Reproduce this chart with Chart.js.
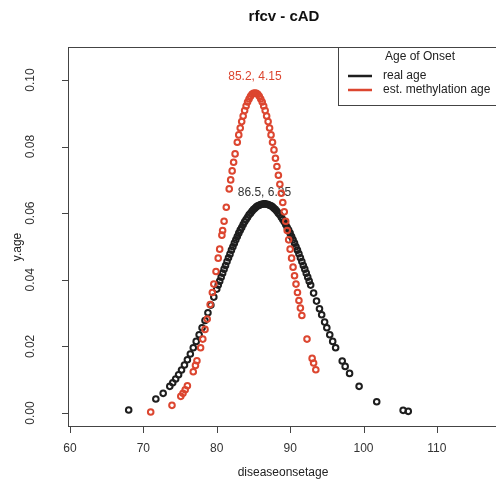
<!DOCTYPE html>
<html>
<head>
<meta charset="utf-8">
<script src="https://cdn.jsdelivr.net/npm/chart.js@4/dist/chart.umd.min.js"></script>
<style>
  html, body { margin: 0; padding: 0; background: #fff; overflow: hidden; }
  #wrap { width: 520px; height: 491px; }
</style>
</head>
<body>
<div id="wrap"><canvas id="densChart" width="520" height="491"></canvas></div>
<script>
const titleText = "rfcv - cAD";
const xTitle = "diseaseonsetage";
const yTitle = "y.age";
const xTicks = [60, 70, 80, 90, 100, 110];
const yTicks = [0.00, 0.02, 0.04, 0.06, 0.08, 0.10];
const yTickLabels = ["0.00", "0.02", "0.04", "0.06", "0.08", "0.10"];

const legendTitle = "Age of Onset";
const seriesNames = ["real age", "est. methylation age"];
const peakLabels = ["86.5, 6.35", "85.2, 4.15"];
const peakLabelX = [86.5, 85.2];
const peakLabelY = [0.0661, 0.1009];

// real age (black)
const blackAge = [68.0, 71.7, 72.7, 73.6,
  74.0, 74.4, 74.8, 75.2, 75.6, 76.0, 76.4, 76.8, 77.2, 77.6,
  78.0, 78.4, 78.8, 79.2, 79.6,
  80.0, 80.2, 80.4, 80.6, 80.8, 81.0, 81.2, 81.4, 81.6, 81.8,
  82.0, 82.2, 82.4, 82.6, 82.8, 83.0, 83.2, 83.4, 83.6, 83.8,
  84.0, 84.2, 84.4, 84.6, 84.8, 85.0, 85.2, 85.4, 85.6, 85.8,
  86.0, 86.2, 86.4, 86.6, 86.8, 87.0, 87.2, 87.4, 87.6, 87.8,
  88.0, 88.2, 88.4, 88.6, 88.8, 89.0, 89.2, 89.4, 89.6, 89.8,
  90.0, 90.2, 90.4, 90.6, 90.8, 91.0, 91.2, 91.4, 91.6, 91.8,
  92.0, 92.2, 92.4, 92.6, 92.8, 93.2, 93.6,
  94.0, 94.3, 94.7, 95.0, 95.4, 95.8, 96.2,
  97.1, 97.5, 98.1, 99.4, 101.8, 105.4, 106.1];
const blackY = [0.0009, 0.0042, 0.0059, 0.0080,
  0.0091, 0.0102, 0.0115, 0.0129, 0.0144, 0.0160, 0.0177, 0.0196, 0.0215, 0.0235,
  0.0256, 0.0278, 0.0301, 0.0324, 0.0348,
  0.0372, 0.0384, 0.0396, 0.0408, 0.0420, 0.0432, 0.0443, 0.0455, 0.0466, 0.0477,
  0.0489, 0.0499, 0.0510, 0.0520, 0.0530, 0.0540, 0.0549, 0.0557, 0.0566, 0.0574,
  0.0581, 0.0588, 0.0595, 0.0600, 0.0606, 0.0611, 0.0615, 0.0619, 0.0622, 0.0624,
  0.0626, 0.0627, 0.0628, 0.0628, 0.0627, 0.0626, 0.0624, 0.0622, 0.0619, 0.0615,
  0.0611, 0.0606, 0.0600, 0.0595, 0.0588, 0.0581, 0.0574, 0.0566, 0.0557, 0.0549,
  0.0540, 0.0530, 0.0520, 0.0510, 0.0499, 0.0489, 0.0478, 0.0466, 0.0455, 0.0443,
  0.0432, 0.0420, 0.0408, 0.0396, 0.0384, 0.0360, 0.0336,
  0.0313, 0.0295, 0.0273, 0.0256, 0.0235, 0.0215, 0.0196,
  0.0156, 0.0140, 0.0119, 0.0080, 0.0034, 0.0008, 0.0005];

// est. methylation age (red)
const redAge = [71.0, 73.9, 75.1, 75.4, 75.7, 76.0,
  76.8, 77.1, 77.3, 77.8, 78.1, 78.4, 78.7,
  79.1, 79.4, 79.6, 79.9, 80.2, 80.4, 80.7, 80.8, 81.0,
  81.3, 81.7, 81.9, 82.1, 82.3, 82.5, 82.8, 83.0, 83.2, 83.4,
  83.6, 83.8, 84.0, 84.2, 84.4, 84.6, 84.8, 85.0,
  85.2, 85.4, 85.6, 85.8, 86.0, 86.2, 86.4, 86.6, 86.8, 87.0,
  87.2, 87.4, 87.6, 87.8, 88.0, 88.2, 88.4, 88.6, 88.8, 89.0,
  89.2, 89.4, 89.6, 89.8, 90.0, 90.2, 90.4, 90.6, 90.8, 91.0,
  91.2, 91.4, 91.6, 92.3, 93.0, 93.2, 93.5];
const redY = [0.0003, 0.0023, 0.0050, 0.0059, 0.0070, 0.0082,
  0.0124, 0.0143, 0.0157, 0.0196, 0.0222, 0.0251, 0.0282,
  0.0326, 0.0362, 0.0387, 0.0425, 0.0465, 0.0492, 0.0534, 0.0548, 0.0576,
  0.0618, 0.0673, 0.0700, 0.0727, 0.0753, 0.0778, 0.0813, 0.0835, 0.0856, 0.0875,
  0.0892, 0.0908, 0.0922, 0.0934, 0.0943, 0.0951, 0.0957, 0.0960,
  0.0961, 0.0960, 0.0957, 0.0951, 0.0943, 0.0934, 0.0922, 0.0908, 0.0892, 0.0875,
  0.0856, 0.0835, 0.0813, 0.0790, 0.0765, 0.0740, 0.0714, 0.0687, 0.0660, 0.0632,
  0.0604, 0.0576, 0.0548, 0.0520, 0.0492, 0.0465, 0.0438, 0.0412, 0.0387, 0.0362,
  0.0338, 0.0315, 0.0293, 0.0222, 0.0164, 0.0150, 0.0130];

const blackColor = "#1e1e1e";
const redColor = "#dc4630";
const font = "'Liberation Sans', Arial, sans-serif";

function toPoints(xs, ys) {
  return xs.map((x, i) => ({ x: x, y: ys[i] }));
}

// R-style frame, axes, title, labels and legend
const rDecor = {
  id: "rDecor",
  beforeDatasetsDraw(chart) {
    const ctx = chart.ctx;
    const xs = chart.scales.x;
    const ys = chart.scales.y;
    ctx.save();
    ctx.font = "12px " + font;
    ctx.textAlign = "center";
    ctx.textBaseline = "middle";
    ctx.fillStyle = "#333";
    ctx.fillText(peakLabels[0], xs.getPixelForValue(peakLabelX[0]), ys.getPixelForValue(peakLabelY[0]));
    ctx.fillStyle = redColor;
    ctx.fillText(peakLabels[1], xs.getPixelForValue(peakLabelX[1]), ys.getPixelForValue(peakLabelY[1]));
    ctx.restore();
  },
  afterDraw(chart) {
    const ctx = chart.ctx;
    const area = chart.chartArea;
    const xs = chart.scales.x;
    const ys = chart.scales.y;
    ctx.save();
    ctx.strokeStyle = "#444";
    ctx.lineWidth = 1;

    // box
    ctx.strokeRect(area.left + 0.5, area.top + 0.5, area.right - area.left, area.bottom - area.top);

    // x axis ticks and labels
    ctx.fillStyle = "#333";
    ctx.font = "12px " + font;
    ctx.textAlign = "center";
    ctx.textBaseline = "middle";
    ctx.beginPath();
    xTicks.forEach(v => {
      const px = Math.round(xs.getPixelForValue(v)) + 0.5;
      ctx.moveTo(px, area.bottom);
      ctx.lineTo(px, area.bottom + 7);
    });
    ctx.stroke();
    xTicks.forEach(v => {
      ctx.fillText(String(v), xs.getPixelForValue(v), area.bottom + 23);
    });

    // y axis ticks and rotated labels
    ctx.beginPath();
    yTicks.forEach(v => {
      const py = Math.round(ys.getPixelForValue(v)) + 0.5;
      ctx.moveTo(area.left, py);
      ctx.lineTo(area.left - 6, py);
    });
    ctx.stroke();
    yTicks.forEach((v, i) => {
      ctx.save();
      ctx.translate(area.left - 37, ys.getPixelForValue(v));
      ctx.rotate(-Math.PI / 2);
      ctx.fillText(yTickLabels[i], 0, 0);
      ctx.restore();
    });

    // axis titles
    ctx.fillStyle = "#222";
    ctx.fillText(xTitle, 283, 473);
    ctx.save();
    ctx.translate(18, 247);
    ctx.rotate(-Math.PI / 2);
    ctx.fillText(yTitle, 0, 0);
    ctx.restore();

    // main title
    ctx.font = "bold 15px " + font;
    ctx.fillStyle = "#111";
    ctx.fillText(titleText, 284, 17);

    // legend
    const lx = 338, ly = area.top, lw = 170, lh = 58;
    ctx.fillStyle = "#fff";
    ctx.fillRect(lx, ly, lw, lh);
    ctx.strokeStyle = "#444";
    ctx.strokeRect(lx + 0.5, ly + 0.5, lw, lh);
    ctx.font = "12px " + font;
    ctx.fillStyle = "#222";
    ctx.textAlign = "center";
    ctx.fillText(legendTitle, 420, 57);
    ctx.textAlign = "left";
    const rows = [76, 90];
    const cols = [blackColor, redColor];
    rows.forEach((ry, i) => {
      ctx.strokeStyle = cols[i];
      ctx.lineWidth = 2.5;
      ctx.beginPath();
      ctx.moveTo(348, ry);
      ctx.lineTo(372, ry);
      ctx.stroke();
      ctx.fillStyle = "#222";
      ctx.fillText(seriesNames[i], 383, ry);
    });
    ctx.restore();
  }
};

const ctx = document.getElementById("densChart").getContext("2d");
new Chart(ctx, {
  type: "scatter",
  data: {
    datasets: [
      {
        label: seriesNames[1],
        data: toPoints(redAge, redY),
        borderColor: redColor,
        backgroundColor: "rgba(0,0,0,0)",
        borderWidth: 2,
        pointRadius: 2.8,
        order: 0
      },
      {
        label: seriesNames[0],
        data: toPoints(blackAge, blackY),
        borderColor: blackColor,
        backgroundColor: "rgba(0,0,0,0)",
        borderWidth: 2,
        pointRadius: 2.8,
        order: 1
      }
    ]
  },
  options: {
    responsive: false,
    animation: false,
    events: [],
    layout: { padding: { top: 47, right: 20, left: 0, bottom: 0 } },
    plugins: {
      legend: { display: false },
      title: { display: false },
      tooltip: { enabled: false }
    },
    scales: {
      x: {
        type: "linear",
        min: 59.73,
        max: 118.6,
        grid: { display: false },
        border: { display: false },
        ticks: { display: false },
        afterFit(scale) { scale.height = 65; }
      },
      y: {
        type: "linear",
        min: -0.0039,
        max: 0.1099,
        grid: { display: false },
        border: { display: false },
        ticks: { display: false },
        afterFit(scale) { scale.width = 68; }
      }
    }
  },
  plugins: [rDecor]
});
</script>
</body>
</html>
